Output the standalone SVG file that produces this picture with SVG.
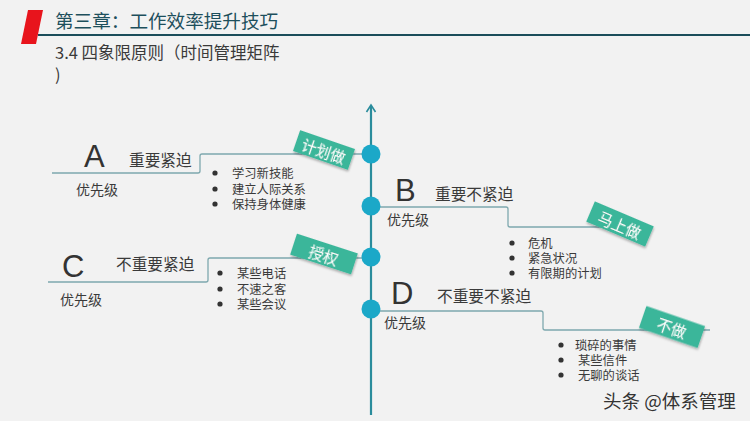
<svg xmlns="http://www.w3.org/2000/svg" width="750" height="421" viewBox="0 0 750 421">
<defs>
<style>
text{font-family:"Noto Sans CJK SC","Liberation Sans",sans-serif;fill:#3a3a3a}
.letter{font-size:31px;font-family:"Liberation Sans","Noto Sans CJK SC",sans-serif;fill:#333}
.head{font-size:15.7px}
.prio{font-size:14px}
.item{font-size:12.3px;font-family:"Liberation Sans","Noto Sans CJK SC",sans-serif}
.tagt{font-size:15px;fill:#fff;text-anchor:middle;dominant-baseline:central}
.tag{fill:#3bb69a}
.conn{fill:none;stroke:#7ea8ae;stroke-width:1.3}
.dot{fill:#1ba8c8}
.bul{fill:#333}
</style>
<filter id="sh" x="-20%" y="-30%" width="140%" height="160%">
<feDropShadow dx="1" dy="1.5" stdDeviation="1.2" flood-color="#000" flood-opacity="0.3"/>
</filter>
</defs>
<rect width="750" height="421" fill="#f2f2f2"/>

<g id="header">
<polygon points="28,10 43,10 36,44 21,44" fill="#e8141c"/>
<line x1="38" y1="35" x2="750" y2="35" stroke="#1b4d5a" stroke-width="2.2"/>
<text x="55" y="28" style="font-size:18.6px;fill:#1d4f5c">第三章：工作效率提升技巧</text>
<text x="55" y="59" style="font-size:16.5px;fill:#3a3a3a">3.4 四象限原则（时间管理矩阵</text>
<text x="55" y="81" style="font-size:16.5px;fill:#3a3a3a">)</text>
</g>

<g id="connectors">
<path class="conn" d="M52,173 H198 Q200,173 200,171 V156 Q200,154 202,154 H362"/>
<path class="conn" d="M380,207 H506 Q508,207 508,209 V225 Q508,227 510,227 H612"/>
<path class="conn" d="M48,282 H206 Q208,282 208,280 V260 Q208,258 210,258 H362"/>
<path class="conn" d="M380,311 H541 Q543,311 543,313 V328 Q543,330 545,330 H710"/>
</g>

<g id="axis">
<line x1="371" y1="106" x2="371" y2="415" stroke="#2a8c9c" stroke-width="2.2"/>
<path d="M366.5,112 L371,105 L375.5,112" fill="none" stroke="#2a8c9c" stroke-width="1.6"/>
<circle class="dot" cx="371" cy="154" r="9.5"/>
<circle class="dot" cx="371" cy="206" r="9.5"/>
<circle class="dot" cx="371" cy="257" r="9.5"/>
<circle class="dot" cx="371" cy="309" r="9.5"/>
</g>

<g id="quadA">
<text class="letter" x="84" y="167">A</text>
<text class="head" x="129" y="166">重要紧迫</text>
<text class="prio" x="76" y="195">优先级</text>
<circle class="bul" cx="215" cy="173" r="2.6"/>
<circle class="bul" cx="215" cy="189" r="2.6"/>
<circle class="bul" cx="215" cy="204" r="2.6"/>
<text class="item" x="232" y="177.5">学习新技能</text>
<text class="item" x="232" y="193.5">建立人际关系</text>
<text class="item" x="232" y="208.5">保持身体健康</text>
<g transform="translate(324,150) rotate(19)" filter="url(#sh)"><rect class="tag" x="-29" y="-11" width="58" height="22"/><text class="tagt" x="0" y="0">计划做</text></g>
</g>

<g id="quadB">
<text class="letter" x="395" y="201">B</text>
<text class="head" x="435" y="200">重要不紧迫</text>
<text class="prio" x="387" y="225">优先级</text>
<circle class="bul" cx="512" cy="243" r="2.6"/>
<circle class="bul" cx="512" cy="258" r="2.6"/>
<circle class="bul" cx="512" cy="273" r="2.6"/>
<text class="item" x="528" y="247.5">危机</text>
<text class="item" x="528" y="262.5">紧急状况</text>
<text class="item" x="528" y="277.5">有限期的计划</text>
<g transform="translate(620,224) rotate(23)" filter="url(#sh)"><rect class="tag" x="-32" y="-11" width="64" height="22"/><text class="tagt" x="0" y="0">马上做</text></g>
</g>

<g id="quadC">
<text class="letter" x="62" y="277">C</text>
<text class="head" x="116" y="270">不重要紧迫</text>
<text class="prio" x="60" y="305">优先级</text>
<circle class="bul" cx="220" cy="273" r="2.6"/>
<circle class="bul" cx="220" cy="289" r="2.6"/>
<circle class="bul" cx="220" cy="304" r="2.6"/>
<text class="item" x="237" y="277.5">某些电话</text>
<text class="item" x="237" y="293.5">不速之客</text>
<text class="item" x="237" y="308.5">某些会议</text>
<g transform="translate(324,254) rotate(18)" filter="url(#sh)"><rect class="tag" x="-32" y="-11" width="64" height="22"/><text class="tagt" x="0" y="0">授权</text></g>
</g>

<g id="quadD">
<text class="letter" x="391" y="304">D</text>
<text class="head" x="437" y="302">不重要不紧迫</text>
<text class="prio" x="384" y="328">优先级</text>
<circle class="bul" cx="561" cy="345" r="2.6"/>
<circle class="bul" cx="561" cy="360" r="2.6"/>
<circle class="bul" cx="561" cy="375" r="2.6"/>
<text class="item" x="575" y="349.5">琐碎的事情</text>
<text class="item" x="578" y="364.5">某些信件</text>
<text class="item" x="578" y="379.5">无聊的谈话</text>
<g transform="translate(672,327) rotate(19)" filter="url(#sh)"><rect class="tag" x="-31" y="-11.5" width="62" height="23"/><text class="tagt" x="0" y="0">不做</text></g>
</g>

<g id="watermark">
<text x="603" y="408" style="font-size:18.5px;fill:#333">头条 @体系管理</text>
</g>
</svg>
